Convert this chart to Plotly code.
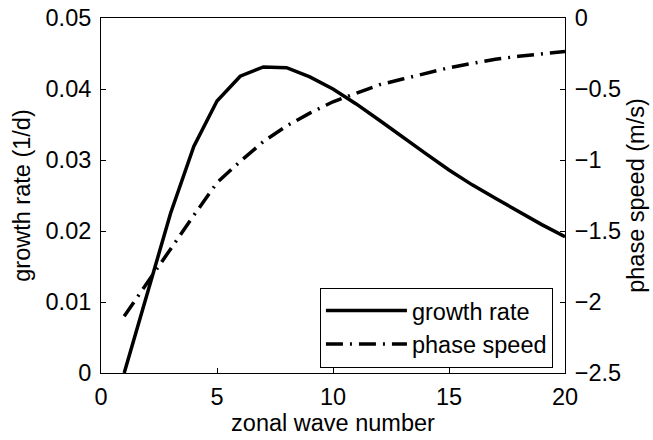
import plotly.graph_objects as go

wave_number = list(range(1, 21))
growth_rate = [0.0, 0.0114, 0.0225, 0.0319, 0.0383, 0.0418, 0.0431, 0.0430, 0.0417, 0.0400,
               0.0379, 0.0356, 0.0332, 0.0309, 0.0286, 0.0265, 0.0246, 0.0227, 0.0209, 0.0192]
phase_speed = [-2.10, -1.86, -1.63, -1.39, -1.16, -1.01, -0.87, -0.76, -0.67, -0.59,
               -0.53, -0.47, -0.43, -0.39, -0.35, -0.32, -0.29, -0.27, -0.25, -0.235]

x_ticks = [0, 5, 10, 15, 20]
y1_ticks = [0, 0.01, 0.02, 0.03, 0.04, 0.05]
y1_labels = ["0", "0.01", "0.02", "0.03", "0.04", "0.05"]
y2_ticks = [0, -0.5, -1, -1.5, -2, -2.5]
y2_labels = ["0", "\u22120.5", "\u22121", "\u22121.5", "\u22122", "\u22122.5"]

FONT = "Liberation Sans, Arial, Helvetica, sans-serif"
FS = 23.5
tf = dict(family=FONT, size=FS, color="black")

fig = go.Figure()
fig.add_trace(go.Scatter(x=wave_number, y=growth_rate, mode="lines", name="growth rate",
                         line=dict(color="black", width=3.5), yaxis="y"))
fig.add_trace(go.Scatter(x=wave_number, y=phase_speed, mode="lines", name="phase speed",
                         line=dict(color="black", width=3.5, dash="17px,7px,2px,7px"), yaxis="y2"))

fig.update_layout(
    template="none",
    width=653, height=440,
    margin=dict(l=101, r=88, t=18, b=67),
    paper_bgcolor="white", plot_bgcolor="white",
    font=tf,
    showlegend=True,
    legend=dict(x=0.974, y=0.015, xanchor="right", yanchor="bottom",
                bgcolor="white", bordercolor="black", borderwidth=1,
                font=tf, itemwidth=81, tracegroupgap=0),
    xaxis=dict(range=[0, 20], tickvals=x_ticks, ticks="inside", ticklen=5, tickwidth=1,
               tickcolor="black", showline=True, linecolor="black", linewidth=1, mirror=True,
               showgrid=False, zeroline=False, ticklabelstandoff=3, tickfont=tf, automargin=False,
               title=dict(text="zonal wave number", standoff=0, font=tf)),
    yaxis=dict(range=[0, 0.05], tickvals=y1_ticks, ticktext=y1_labels, ticks="inside", ticklen=5,
               tickwidth=1, tickcolor="black", showline=True, linecolor="black", linewidth=1,
               mirror=True, showgrid=False, zeroline=False, ticklabelstandoff=4, tickfont=tf,
               automargin=False,
               title=dict(text="growth rate (1/d)", standoff=8, font=tf)),
    yaxis2=dict(range=[-2.5, 0], tickvals=y2_ticks, ticktext=y2_labels, ticks="inside", ticklen=5,
                tickwidth=1, tickcolor="black", showline=True, linecolor="black", linewidth=1,
                overlaying="y", side="right", showgrid=False, zeroline=False, ticklabelstandoff=4,
                tickfont=tf, automargin=False,
                title=dict(text="phase speed (m/s)", standoff=7, font=tf)),
)

fig.write_html("out.html")
